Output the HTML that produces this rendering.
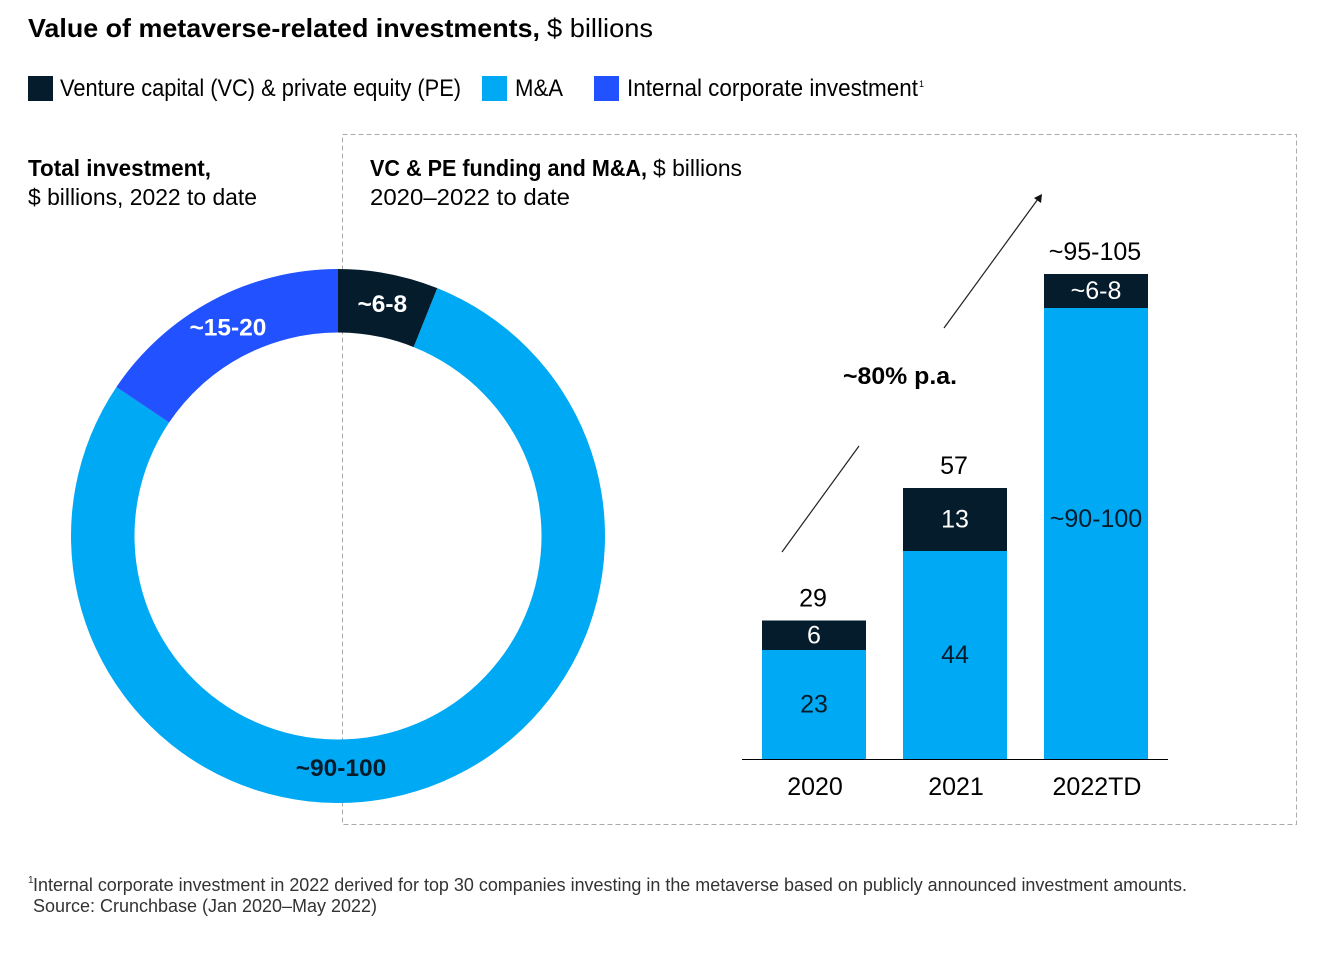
<!DOCTYPE html>
<html lang="en">
<head>
<meta charset="utf-8">
<title>Value of metaverse-related investments</title>
<style>
html,body{margin:0;padding:0;background:#fff;width:1336px;height:960px;overflow:hidden}
svg{display:block}
text{font-family:"Liberation Sans",sans-serif;fill:#000}
.b{font-weight:bold}
.foot{fill:#333;font-size:18px}
</style>
</head>
<body>
<svg id="chart" width="1336" height="960" viewBox="0 0 1336 960" xmlns="http://www.w3.org/2000/svg">
  <rect width="1336" height="960" fill="#fff"/>

  <text class="b" x="28" y="37" font-size="26" textLength="512" lengthAdjust="spacingAndGlyphs">Value of metaverse-related investments,</text>
  <text x="547" y="37" font-size="26" textLength="106" lengthAdjust="spacingAndGlyphs">$ billions</text>

  <g>
    <rect x="28" y="76" width="25" height="25" fill="#051C2C"/>
    <text x="60" y="96" font-size="24" textLength="401" lengthAdjust="spacingAndGlyphs">Venture capital (VC) &amp; private equity (PE)</text>
    <rect x="482" y="76" width="25" height="25" fill="#00A9F4"/>
    <text x="515" y="96" font-size="24" textLength="48" lengthAdjust="spacingAndGlyphs">M&amp;A</text>
    <rect x="594" y="76" width="25" height="25" fill="#2251FF"/>
    <text x="627" y="96" font-size="24" textLength="291" lengthAdjust="spacingAndGlyphs">Internal corporate investment</text>
    <text x="919" y="87" font-size="9">1</text>
  </g>

  <rect x="342.5" y="134.5" width="954" height="690" fill="none" stroke="#aaa" stroke-width="1" stroke-dasharray="5 3"/>

  <text class="b" x="28" y="176" font-size="23" textLength="183" lengthAdjust="spacingAndGlyphs">Total investment,</text>
  <text x="28" y="205" font-size="23" textLength="229" lengthAdjust="spacingAndGlyphs">$ billions, 2022 to date</text>

  <text class="b" x="370" y="176" font-size="23" textLength="277" lengthAdjust="spacingAndGlyphs">VC &amp; PE funding and M&amp;A,</text>
  <text x="653" y="176" font-size="23" textLength="89" lengthAdjust="spacingAndGlyphs">$ billions</text>
  <text x="370" y="205" font-size="23" textLength="200" lengthAdjust="spacingAndGlyphs">2020–2022 to date</text>

  <g id="donut"></g>
  <g id="bars"></g>

  <g>
    <line x1="782" y1="552" x2="859" y2="446" stroke="#222" stroke-width="1.2"/>
    <line x1="944" y1="328" x2="1038" y2="199" stroke="#222" stroke-width="1.2"/>
    <polygon points="1042,194 1041,203 1034,198" fill="#111"/>
    <text class="b" x="843" y="384" font-size="24" textLength="114" lengthAdjust="spacingAndGlyphs">~80% p.a.</text>
  </g>

  <g>
    <text class="foot" x="28" y="883" style="font-size:10px">1</text>
    <text class="foot" x="33" y="891" textLength="1154" lengthAdjust="spacingAndGlyphs">Internal corporate investment in 2022 derived for top 30 companies investing in the metaverse based on publicly announced investment amounts.</text>
    <text class="foot" x="33" y="912" textLength="344" lengthAdjust="spacingAndGlyphs">Source: Crunchbase (Jan 2020–May 2022)</text>
  </g>
</svg>
<script>
const donutNames = ['vc-pe', 'ma', 'internal'];
const donutValues = [7.2, 93, 18.5];
const donutLabels = ['~6-8', '~90-100', '~15-20'];
const barCategories = ['2020', '2021', '2022TD'];
const maValues = [23, 44, 95.4];
const vcValues = [6.3, 13.3, 7.1];
const maLabels = ['23', '44', '~90-100'];
const vcLabels = ['6', '13', '~6-8'];
const totalLabels = ['29', '57', '~95-105'];

const NS = 'http://www.w3.org/2000/svg';
const COLORS = {dark: '#051C2C', cyan: '#00A9F4', blue: '#2251FF'};
const donutColors = [COLORS.dark, COLORS.cyan, COLORS.blue];
const donutText = ['#fff', COLORS.dark, '#fff'];

function make(tag, attrs, parent, txt) {
  const el = document.createElementNS(NS, tag);
  for (const k in attrs) el.setAttribute(k, attrs[k]);
  if (txt !== undefined) el.textContent = txt;
  parent.appendChild(el);
  return el;
}

/* donut */
const cx = 338, cy = 536, rOut = 267, rIn = 203.5;
const donutGroup = document.getElementById('donut');
const donutTotal = donutValues.reduce((a, b) => a + b, 0);
const angleOf = v => v / donutTotal * 2 * Math.PI;
const polar = (r, a) => [cx + r * Math.sin(a), cy - r * Math.cos(a)];
let start = 0;
donutValues.forEach((v, i) => {
  const end = start + angleOf(v);
  const large = end - start > Math.PI ? 1 : 0;
  const p1 = polar(rOut, start), p2 = polar(rOut, end), p3 = polar(rIn, end), p4 = polar(rIn, start);
  const d = `M${p1[0]} ${p1[1]}A${rOut} ${rOut} 0 ${large} 1 ${p2[0]} ${p2[1]}L${p3[0]} ${p3[1]}A${rIn} ${rIn} 0 ${large} 0 ${p4[0]} ${p4[1]}Z`;
  const slice = make('path', {d: d, fill: donutColors[i]}, donutGroup);
  
  
  start = end;
});
start = 0;
donutValues.forEach((v, i) => {
  const end = start + angleOf(v);
  /* a slice that spans the bottom of the ring carries its label there */
  const mid = (start < Math.PI && end > Math.PI) ? Math.PI : (start + end) / 2;
  const p = polar(234, mid);
  const label = make('text', {x: p[0] + (mid === Math.PI ? 3 : 0), y: p[1] + 6, 'text-anchor': 'middle', 'font-size': 24.5, 'font-weight': 'bold', style: 'fill:' + donutText[i]}, donutGroup, donutLabels[i]);
  
  
  start = end;
});

/* stacked bars */
const barsGroup = document.getElementById('bars');
const baseY = 759, pxPerUnit = 4.73, barLeft = 762, barStep = 141, barW = 104;
const maxLabelDrop = 211;
const xOf = i => barLeft + i * barStep;
const hOf = v => v * pxPerUnit;
barCategories.forEach((cat, i) => {
  const x = xOf(i), mid = x + barW / 2;
  const hMa = hOf(maValues[i]), hVc = hOf(vcValues[i]);
  const maTop = baseY - hMa, vcTop = maTop - hVc;

  const maBar = make('rect', {x: x, y: maTop, width: barW, height: hMa, fill: COLORS.cyan, 'shape-rendering': 'crispEdges'}, barsGroup);
  
  

  const vcBar = make('rect', {x: x, y: vcTop, width: barW, height: hVc, fill: COLORS.dark, 'shape-rendering': 'crispEdges'}, barsGroup);
  
  

  const maText = make('text', {x: mid, y: maTop + Math.min(hMa / 2, maxLabelDrop) + 8, 'text-anchor': 'middle', 'font-size': 25, style: 'fill:' + COLORS.dark}, barsGroup, maLabels[i]);
  
  

  const vcText = make('text', {x: mid, y: vcTop + hVc / 2 + 8, 'text-anchor': 'middle', 'font-size': 25, style: 'fill:#fff'}, barsGroup, vcLabels[i]);
  
  

  const totalText = make('text', {x: mid - 1, y: vcTop - 14, 'text-anchor': 'middle', 'font-size': 25}, barsGroup, totalLabels[i]);
  
  

  const catText = make('text', {x: mid + 1, y: 795, 'text-anchor': 'middle', 'font-size': 25}, barsGroup, cat);
  
  
});
const axis = make('line', {x1: 742, x2: 1168, y1: baseY + 0.5, y2: baseY + 0.5, stroke: '#000', 'stroke-width': 1}, barsGroup);


</script>
</body>
</html>
